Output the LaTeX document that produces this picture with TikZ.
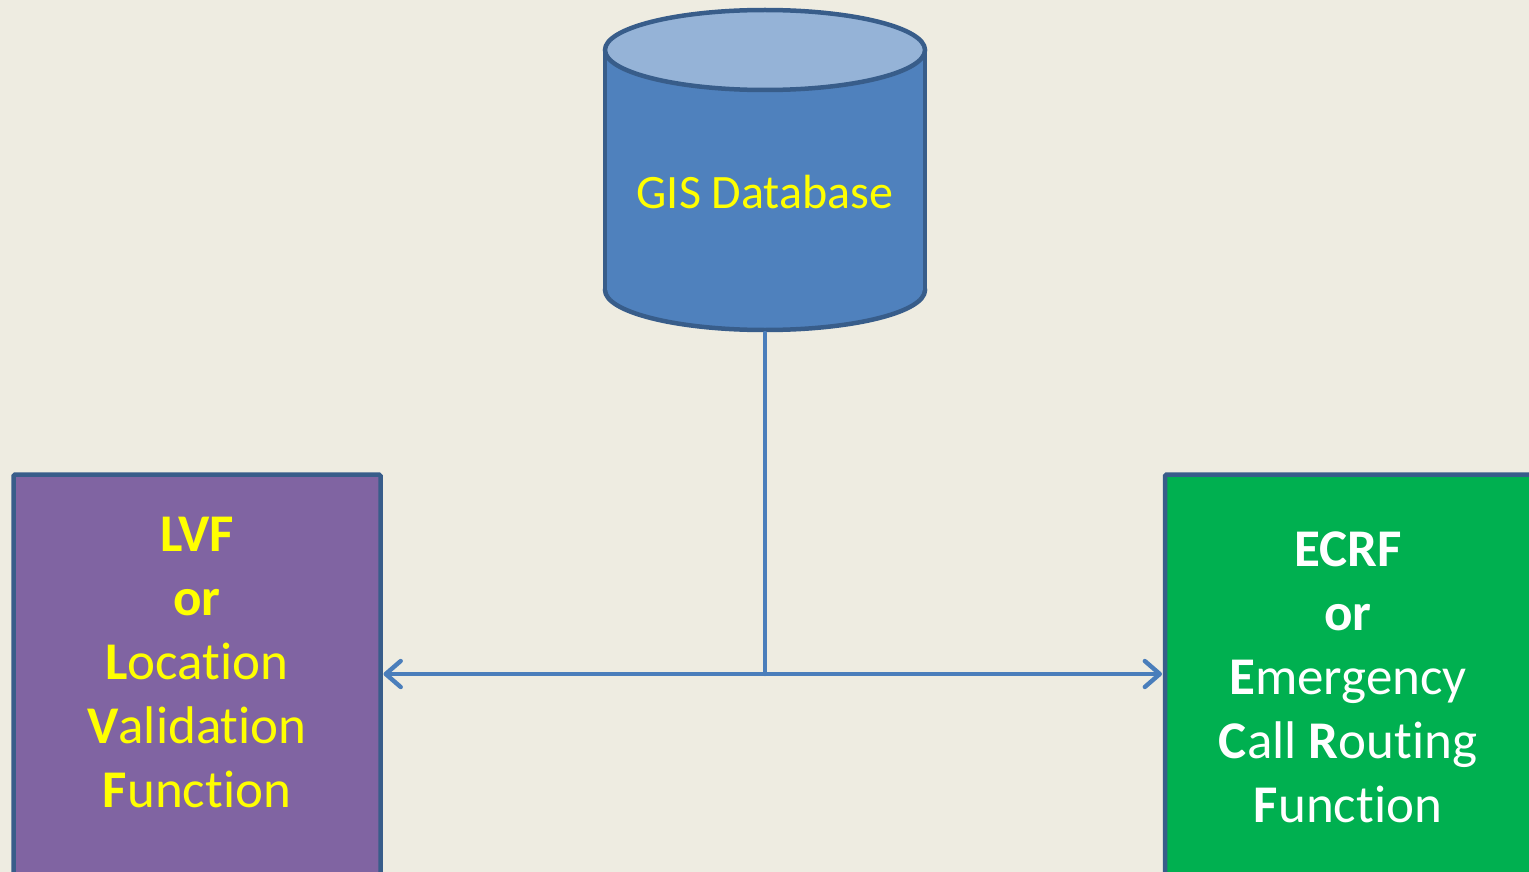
\documentclass[tikz,border=0pt]{standalone}
\usepackage{fontspec}
\setmainfont{Carlito}[RawFeature=-liga]
\usetikzlibrary{arrows.meta}
\definecolor{paper}{HTML}{EEECE1}
\definecolor{lvfpurple}{HTML}{8064A2}
\definecolor{ecrfgreen}{HTML}{00B050}
\definecolor{dbbody}{HTML}{4F81BD}
\definecolor{dbtop}{HTML}{95B3D7}
\definecolor{edge}{HTML}{385D8A}
\definecolor{wire}{HTML}{4A7EBB}
\definecolor{hilite}{HTML}{FFFF00}
\tikzset{
  funcbox/.style={draw=edge, line width=4.5pt, rounded corners=1.5pt, outer sep=0pt,
    minimum width=367pt, minimum height=460pt, anchor=north west, inner sep=0pt},
  boxtext/.style={align=center, anchor=base, inner sep=0pt,
    font=\fontsize{53}{64}\selectfont},
  dbtext/.style={anchor=base, inner sep=0pt, text=hilite,
    font=\fontsize{48}{56}\selectfont},
  wireline/.style={draw=wire, line width=4.4pt, line cap=round},
  twoway/.style={{Straight Barb[length=15pt,width=26pt,line cap=round,line join=round]}-{Straight Barb[length=15pt,width=26pt,line cap=round,line join=round]}},
  cylline/.style={draw=edge, line width=4.5pt}
}
\begin{document}
\begin{tikzpicture}[x=1pt,y=-1pt]
\useasboundingbox (0,0) rectangle (1529,872);
\clip (0,0) rectangle (1529,872);
\fill[paper] (0,0) rectangle (1529,872);

% database cylinder
\fill[dbbody, cylline] (765,290) ellipse [x radius=160, y radius=40];
\fill[dbbody] (605,50) rectangle (925,290);
\draw[cylline] (605,50) -- (605,290);
\draw[cylline] (925,50) -- (925,290);
\filldraw[fill=dbtop, cylline] (765,50) ellipse [x radius=160, y radius=40];
\node[dbtext] (gis) at (765,208) {GIS Database};
\coordinate (gisbot) at (765,333);

% function boxes
\node[funcbox, fill=lvfpurple] (lvf) at (13.5,474.5) {};
\node[funcbox, fill=ecrfgreen] (ecrf) at (1165,474.5) {};

% the base anchor of a multi-line node sits on its last line
\node[boxtext, text=hilite] (lvftext) at (197,807)
  {\bfseries LVF\\ \bfseries or\\ \textbf{L}ocation\\ \textbf{V}alidation\\ \textbf{F}unction};
\node[boxtext, text=white] (ecrftext) at (1348,822)
  {\bfseries ECRF\\ \bfseries or\\ \textbf{E}mergency\\ \textbf{C}all \textbf{R}outing\\ \textbf{F}unction};

% connectors
\coordinate (junction) at (765,674);
\draw[wireline] (gisbot) -- (junction);
\draw[wireline, twoway, shorten <=3pt, shorten >=3pt]
  (lvf.east |- junction) -- (ecrf.west |- junction);
\end{tikzpicture}
\end{document}
